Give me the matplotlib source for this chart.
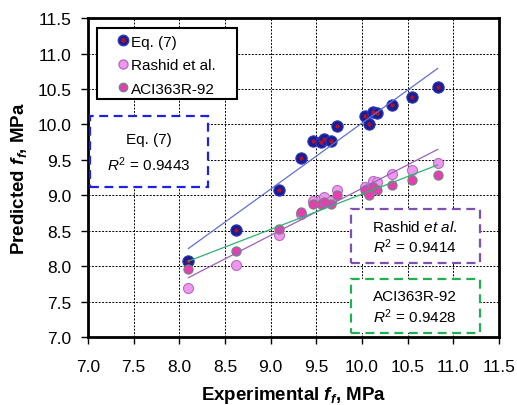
import numpy as np
import matplotlib
matplotlib.use("Agg")
import matplotlib.pyplot as plt
from matplotlib.patches import Rectangle
from matplotlib.lines import Line2D

plt.rcParams['font.family'] = ['Liberation Sans', 'DejaVu Sans']
plt.rcParams['mathtext.fontset'] = 'custom'
plt.rcParams['mathtext.rm'] = 'Liberation Sans'
plt.rcParams['mathtext.it'] = 'Liberation Sans:italic'
plt.rcParams['mathtext.bf'] = 'Liberation Sans:bold'
plt.rcParams['mathtext.bfit'] = 'Liberation Sans:bold:italic'

# experimental f_f (MPa)
experimental = [8.10, 8.62, 9.09, 9.33, 9.46, 9.55, 9.59, 9.66, 9.73,
                10.03, 10.08, 10.12, 10.17, 10.33, 10.55, 10.83]
# predicted f_f (MPa)
eq7 = [8.07, 8.51, 9.07, 9.52, 9.76, 9.75, 9.80, 9.76, 9.98,
       10.12, 10.00, 10.17, 10.16, 10.27, 10.39, 10.53]
rashid = [7.69, 8.02, 8.44, 8.74, 8.92, 8.93, 8.97, 8.92, 9.07,
          9.12, 9.10, 9.20, 9.19, 9.30, 9.36, 9.45]
aci = [7.96, 8.21, 8.52, 8.76, 8.88, 8.88, 8.91, 8.88, 9.00,
       9.07, 9.00, 9.12, 9.07, 9.14, 9.21, 9.29]

r2_labels = ["0.9443", "0.9414", "0.9428"]
ticks = [7.0, 7.5, 8.0, 8.5, 9.0, 9.5, 10.0, 10.5, 11.0, 11.5]

fig = plt.figure(figsize=(5.17, 4.06), dpi=100)
ax = fig.add_axes([0.170, 0.167, 0.795, 0.786])

x = np.array(experimental)

# points
ax.scatter(x, eq7, s=66, color="#1c1c8e", edgecolor="#2a3ac0", linewidth=0.8, zorder=3)
ax.scatter(x, eq7, s=9, color="#b0102a", linewidth=0, zorder=4)
ax.scatter(x, rashid, s=52, color="#f096f0", edgecolor="#b070c0", linewidth=0.8, zorder=5)
ax.scatter(x, aci, s=44, color="#e83cb4", edgecolor="#708878", linewidth=0.8, zorder=6)

# trend lines
xl = np.array([x.min(), x.max()])
for yv, c in [(eq7, "#6070d0"), (rashid, "#9a60c0"), (aci, "#30b070")]:
    k, b = np.polyfit(x, yv, 1)
    ax.plot(xl, k * xl + b, color=c, lw=0.9, zorder=7)

ax.set_xlim(7.0, 11.5)
ax.set_ylim(7.0, 11.5)
ax.set_xticks(ticks)
ax.set_yticks(ticks)
ax.set_xticklabels([f"{t:.1f}" for t in ticks], fontsize=12.5)
ax.set_yticklabels([f"{t:.1f}" for t in ticks], fontsize=12.5)
ax.tick_params(direction="out", length=5, width=1)
ax.tick_params(axis="x", pad=11)
ax.tick_params(axis="y", pad=7)
ax.grid(True, color="black", linestyle=(0, (2, 1.5)), linewidth=0.7, zorder=0)
ax.set_axisbelow(True)
for s in ax.spines.values():
    s.set_linewidth(2)

ax.set_xlabel(r"Experimental $\mathbfit{f}_{\mathbfit{f}}$, MPa", fontsize=13.5, fontweight="bold", labelpad=7)
ax.set_ylabel(r"Predicted $\mathbfit{f}_{\mathbfit{f}}$, MPa", fontsize=13.5, fontweight="bold", labelpad=6)

# legend with a separate frame
ax.add_patch(Rectangle((0.022, 0.746), 0.340, 0.222, transform=ax.transAxes,
                       facecolor="white", edgecolor="black", linewidth=1.5, zorder=9))
h_eq = (Line2D([], [], ls="", marker="o", ms=7.5, mfc="#1c1c8e", mec="#2a3ac0"),
        Line2D([], [], ls="", marker="o", ms=2.5, mfc="#b0102a", mec="#b0102a"))
h_ra = Line2D([], [], ls="", marker="o", ms=6.5, mfc="#f096f0", mec="#b070c0")
h_ac = Line2D([], [], ls="", marker="o", ms=6, mfc="#e83cb4", mec="#708878")
leg = ax.legend([h_eq, h_ra, h_ac], ["Eq. (7)", "Rashid et al.", "ACI363R-92"],
                loc="upper left", bbox_to_anchor=(0.06, 0.962), fontsize=11,
                frameon=False, handlelength=0.8, handletextpad=0.1, borderpad=0.3,
                labelspacing=0.62, borderaxespad=0)
leg.set_zorder(10)

# R2 boxes (axes coords)
boxes = [
    (0.005, 0.470, 0.287, 0.222, "#2020e0", "Eq. (7)"),
    (0.639, 0.232, 0.314, 0.170, "#8050b0", r"Rashid $et\ al.$"),
    (0.639, 0.012, 0.314, 0.170, "#20b050", "ACI363R-92"),
]
for (bx, by, bw, bh, col, name), r2 in zip(boxes, r2_labels):
    ax.add_patch(Rectangle((bx, by), bw, bh, transform=ax.transAxes, facecolor="white",
                           edgecolor=col, linewidth=1.6, linestyle=(0, (4, 2.5)),
                           zorder=9, clip_on=False))
    cx = bx + bw / 2
    ax.text(cx, by + bh * 0.68, name, transform=ax.transAxes, ha="center", va="center",
            fontsize=11, zorder=10)
    ax.text(cx, by + bh * 0.33, r"$R^{\rm 2}$ = " + r2, transform=ax.transAxes,
            ha="center", va="center", fontsize=11, zorder=10)

fig.savefig("out.png", dpi=100)
